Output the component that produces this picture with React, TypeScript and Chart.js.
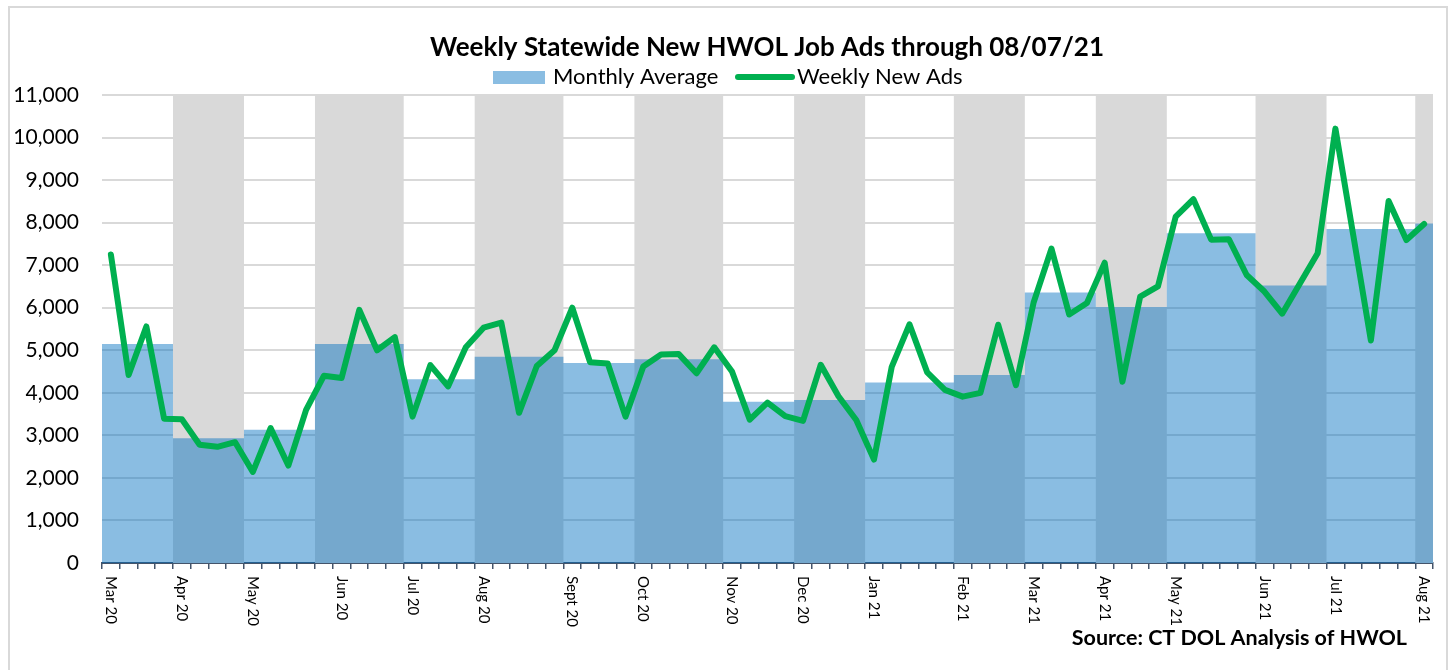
import React, { useEffect, useRef } from 'react';
import { Chart, registerables } from 'chart.js';

Chart.register(...registerables);

// ---------- data ----------
const monthLabels = [
  'Mar 20', 'Apr 20', 'May 20', 'Jun 20', 'Jul 20', 'Aug 20', 'Sept 20', 'Oct 20', 'Nov 20',
  'Dec 20', 'Jan 21', 'Feb 21', 'Mar 21', 'Apr 21', 'May 21', 'Jun 21', 'Jul 21', 'Aug 21',
];
// weeks covered by each monthly-average column
const weeksPerMonth = [4, 4, 4, 5, 4, 5, 4, 5, 4, 4, 5, 4, 4, 4, 5, 4, 5, 1];
// week index where each month label sits
const labelWeekIndex = [0, 4, 8, 13, 17, 21, 26, 30, 35, 39, 43, 48, 52, 56, 60, 65, 69, 74];
const monthlyAverage = [
  5150, 2930, 3130, 5150, 4320, 4850, 4700, 4790, 3790, 3830, 4240, 4420, 6360, 6020, 7750, 6520, 7850, 7980,
];
const shadedMonth = [
  false, true, false, true, false, true, false, true, false, true, false, true, false, true, false, true, false, true,
];
const weeklyNewAds = [
  7250, 4420, 5560, 3390, 3380, 2780, 2730, 2840, 2140, 3170,
  2290, 3600, 4400, 4350, 5950, 5000, 5310, 3440, 4650, 4150,
  5070, 5530, 5650, 3530, 4630, 5000, 6000, 4720, 4690, 3440,
  4620, 4900, 4910, 4460, 5070, 4500, 3370, 3770, 3450, 3340,
  4660, 3920, 3360, 2430, 4610, 5610, 4480, 4070, 3910, 4000,
  5600, 4180, 6130, 7390, 5840, 6110, 7060, 4260, 6260, 6500,
  8140, 8550, 7600, 7610, 6770, 6380, 5860, 6570, 7280, 10210,
  7720, 5230, 8510, 7590, 7970,
];
const yMin = 0;
const yMax = 11000;
const yStep = 1000;
const titleText = 'Weekly Statewide New HWOL Job Ads through 08/07/21';
const seriesNames = ['Monthly Average', 'Weekly New Ads'];
const sourceText = 'Source: CT DOL Analysis of HWOL';

// ---------- derived tables ----------
const nWeeks = weeklyNewAds.length;
const weekPoints = weeklyNewAds.map((v, i) => ({ x: i + 0.5, y: v }));
const monthStart: number[] = [];
weeksPerMonth.reduce((acc, n) => { monthStart.push(acc); return acc + n; }, 0);
const monthlyPoints = monthlyAverage.map((v, m) => ({ x: monthStart[m], y: v }));
monthlyPoints.push({ x: nWeeks, y: monthlyAverage[monthlyAverage.length - 1] });
const shadePoints = shadedMonth.map((s, m) => ({ x: monthStart[m], y: s ? yMax : 0 }));
shadePoints.push({ x: nWeeks, y: shadedMonth[shadedMonth.length - 1] ? yMax : 0 });

const BLUE = 'rgba(0,112,192,0.46)';
const GREEN = '#00b050';
const GREY = '#d9d9d9';
const AXIS = '#44546a';
const FONT = 'Lato, "Open Sans", sans-serif';

const textPlugin = {
  id: 'textLayer',
  afterDraw(chart: any) {
    const ctx = chart.ctx;
    const xs = chart.scales.x;
    ctx.save();
    ctx.fillStyle = '#000';
    // title
    ctx.font = `bold 26px ${FONT}`;
    ctx.textAlign = 'center';
    ctx.textBaseline = 'alphabetic';
    ctx.fillText(titleText, 767, 56);
    // legend
    ctx.font = `22px ${FONT}`;
    ctx.textAlign = 'left';
    ctx.fillStyle = BLUE;
    ctx.fillRect(493, 71, 52, 13);
    ctx.fillStyle = '#000';
    ctx.fillText(seriesNames[0], 553, 84);
    ctx.strokeStyle = GREEN;
    ctx.lineWidth = 6;
    ctx.lineCap = 'round';
    ctx.beginPath();
    ctx.moveTo(738, 77);
    ctx.lineTo(792, 77);
    ctx.stroke();
    ctx.fillText(seriesNames[1], 797, 84);
    // x labels, rotated clockwise
    ctx.font = `15px ${FONT}`;
    ctx.textBaseline = 'middle';
    ctx.textAlign = 'left';
    labelWeekIndex.forEach((w, m) => {
      const x = xs.getPixelForValue(w + 0.5);
      ctx.save();
      ctx.translate(x, 576);
      ctx.rotate(Math.PI / 2);
      ctx.fillText(monthLabels[m], 0, 0);
      ctx.restore();
    });
    // source
    ctx.font = `bold 21.5px ${FONT}`;
    ctx.textAlign = 'right';
    ctx.textBaseline = 'alphabetic';
    ctx.fillText(sourceText, 1407, 645);
    ctx.restore();
  },
};

export default function App() {
  const ref = useRef<HTMLCanvasElement | null>(null);
  useEffect(() => {
    if (!ref.current) return;
    const chart = new Chart(ref.current, {
      type: 'line',
      data: {
        datasets: [
          {
            label: seriesNames[1],
            data: weekPoints,
            borderColor: GREEN,
            backgroundColor: GREEN,
            borderWidth: 6,
            pointRadius: 0,
            tension: 0,
            fill: false,
            borderJoinStyle: 'round',
            borderCapStyle: 'round',
            order: 0,
          },
          {
            label: seriesNames[0],
            data: monthlyPoints,
            stepped: 'before',
            borderColor: 'transparent',
            borderWidth: 1,
            backgroundColor: BLUE,
            fill: 'origin',
            pointRadius: 0,
            order: 1,
          },
          {
            label: 'shade',
            data: shadePoints,
            stepped: 'before',
            borderColor: 'transparent',
            borderWidth: 1,
            backgroundColor: GREY,
            fill: 'origin',
            pointRadius: 0,
            order: 2,
          },
        ] as any,
      },
      options: {
        animation: false,
        responsive: false,
        devicePixelRatio: 1,
        layout: { padding: { left: 0, top: 95, right: 19, bottom: 0 } },
        plugins: {
          legend: { display: false },
          title: { display: false },
          tooltip: { enabled: false },
        },
        scales: {
          x: {
            type: 'linear',
            min: 0,
            max: nWeeks,
            afterFit: (s: any) => { s.height = 107; },
            grid: {
              drawOnChartArea: false,
              drawTicks: true,
              tickLength: 6,
              color: AXIS,
              lineWidth: 1.5,
            },
            border: { display: true, color: AXIS, width: 2 },
            ticks: { display: false, stepSize: 1 },
          },
          y: {
            min: yMin,
            max: yMax,
            afterFit: (s: any) => { s.width = 102; },
            grid: { color: GREY, lineWidth: 2, drawTicks: false },
            border: { display: false },
            ticks: {
              stepSize: yStep,
              padding: 23,
              color: '#000',
              font: { family: FONT, size: 21 },
              callback: (v: any) => Number(v).toLocaleString('en-US'),
            },
          },
        },
      } as any,
      plugins: [textPlugin],
    });
    return () => chart.destroy();
  }, []);

  return (
    <>
      <div
        style={{
          position: 'fixed', left: 8, top: 6, width: 1440, height: 700,
          border: `2px solid ${GREY}`, boxSizing: 'border-box', background: '#fff',
        }}
      />
      <canvas
        ref={ref}
        width={1452}
        height={670}
        style={{ position: 'fixed', left: 0, top: 0, width: 1452, height: 670 }}
      />
    </>
  );
}
